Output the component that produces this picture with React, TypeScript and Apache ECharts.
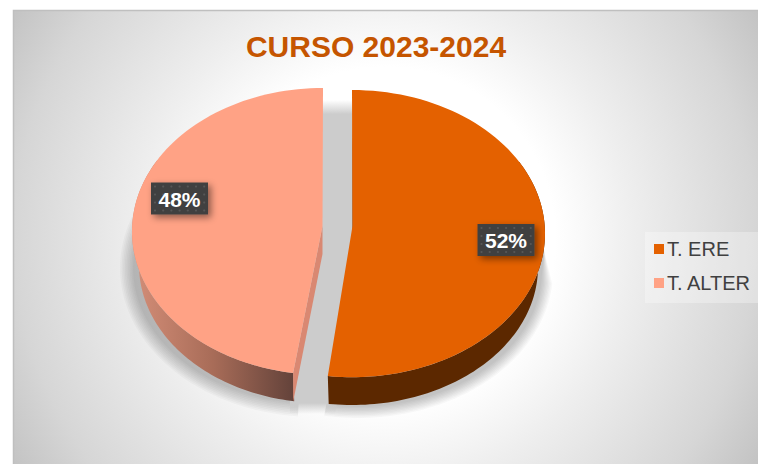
import React, { useEffect, useRef } from "react";
import * as echarts from "echarts";

const titleText = "CURSO 2023-2024";
const categories = ["T. ERE", "T. ALTER"];
const values = [52, 48];
const colors = ["#E46100", "#FFA285"];
const wallColors: any[] = [
  "#5C2800",
  {
    type: "linear", x: 0, y: 0, x2: 1, y2: 0,
    colorStops: [
      { offset: 0, color: "#D48E78" },
      { offset: 0.5, color: "#A86C58" },
      { offset: 1, color: "#63423A" },
    ],
  },
];

// Projection of each exploded slice: tilted ellipse, its lower rim and apex.
const slices = [
  { cx: 352, cy: 233.6, rx: 193, ry: 143.6, ax: 352.5, ay: 226, lcy: 267, lrx: 186, lry: 138, skew: 0, wallFrom: 60, labelX: 506, labelY: 240, labelW: 57,
    shCx: 358, shCy: 271, shFrom: 95, shTo: 190, shStart: [544, 250] },
  { cx: 323, cy: 231.4, rx: 191, ry: 143.4, ax: 322.5, ay: 226, lcy: 265, lrx: 184, lry: 138, skew: 1.8, wallFrom: 300, labelX: 179.5, labelY: 198.5, labelW: 57,
    shCx: 315, shCy: 268, shFrom: 185, shTo: 300, shStart: [300, 300] },
];
const depth = 28;
const shadowLayers = 9;

const toRad = (d: number) => (d * Math.PI) / 180;
const arc = (cx: number, cy: number, rx: number, ry: number, a: number, b: number) => {
  const pts: number[][] = [];
  const n = 90;
  for (let i = 0; i <= n; i++) {
    const t = toRad(a + ((b - a) * i) / n);
    pts.push([cx + rx * Math.sin(t), cy - ry * Math.cos(t)]);
  }
  return pts;
};

const total = values.reduce((s, v) => s + v, 0);
const range = (i: number): [number, number] => {
  let start = 0;
  for (let k = 0; k < i; k++) start += values[k];
  const a = (start / total) * 360;
  const b = ((start + values[i]) / total) * 360;
  return [a + slices[i].skew, b];
};

const renderSlice = (i: number) => () => {
  const s = slices[i];
  const [a, b] = range(i);
  const top = [[s.ax, s.ay], ...arc(s.cx, s.cy, s.rx, s.ry, a, b)];
  const children: any[] = [];

  // soft cast shadow: stacked translucent outlines
  const dMax = i === 0 ? 9 : 11;
  for (let k = 0; k < shadowLayers; k++) {
    const d = dMax - (k * (dMax + 2)) / (shadowLayers - 1);
    const pts = arc(s.shCx, s.shCy, s.lrx + d, s.lry + d, s.shFrom, s.shTo);
    children.push({
      type: "polygon",
      z2: 0,
      shape: { points: [s.shStart, ...pts, [s.ax, s.ay + 40]] },
      style: { fill: "rgba(0,0,0,0.026)" },
    });
  }

  // outer wall
  const lo = i === 0 ? arc(s.cx, s.lcy, s.lrx, s.lry, s.wallFrom, b) : arc(s.cx, s.lcy, s.lrx, s.lry, a, s.wallFrom);
  const up = i === 0 ? arc(s.cx, s.cy, s.rx, s.ry, s.wallFrom, b) : arc(s.cx, s.cy, s.rx, s.ry, a, s.wallFrom);
  children.push({
    type: "polygon",
    z2: 2,
    shape: { points: [...up, ...lo.reverse()] },
    style: { fill: wallColors[i] },
  });

  // inner wall along the cut
  const cutEnd = arc(s.cx, s.cy, s.rx, s.ry, a, a)[0];
  if (i === 1) {
    children.push({
      type: "polygon",
      z2: 2,
      shape: {
        points: [[s.ax, s.ay], cutEnd, [cutEnd[0], cutEnd[1] + depth + 1], [s.ax, s.ay + depth]],
      },
      style: { fill: "#D98872" },
    });
  } else {
    children.push({
      type: "polygon",
      z2: 2,
      shape: { points: [[s.ax, 120], [s.ax + 2, 225], [s.ax, 232]] },
      style: { fill: "#5C3A1C" },
    });
  }

  // top face
  children.push({
    type: "polygon",
    z2: 3,
    shape: { points: top },
    style: { fill: colors[i] },
  });

  // data label
  const w = s.labelW, h = 32;
  const lx = s.labelX - w / 2, ly = s.labelY - h / 2;
  children.push({
    type: "rect",
    z2: 4,
    shape: { x: lx, y: ly, width: w, height: h },
    style: { fill: "#404040", shadowBlur: 7, shadowOffsetX: 3, shadowOffsetY: 3, shadowColor: "rgba(0,0,0,0.45)" },
  });
  for (let col = 0; col < 7; col++) {
    for (let row = 0; row < 4; row++) {
      children.push({
        type: "circle",
        z2: 5,
        shape: { cx: lx + 4 + col * 8.2, cy: ly + 4 + row * 8, r: 1.1 },
        style: { fill: "#565656" },
      });
    }
  }
  children.push({
    type: "text",
    z2: 6,
    style: {
      text: `${values[i]}%`,
      x: s.labelX,
      y: s.labelY + 0.5,
      fill: "#ffffff",
      align: "center",
      verticalAlign: "middle",
      font: 'bold 21px "Liberation Sans", Arial, sans-serif',
    },
  });
  return { type: "group", children };
};

export default function App() {
  const ref = useRef<HTMLDivElement>(null);
  useEffect(() => {
    document.body.style.margin = "0";
    const chart = echarts.init(ref.current!, undefined, { renderer: "svg" });
    chart.setOption({
      animation: false,
      title: {
        text: titleText,
        left: 376,
        top: 31,
        textAlign: "center",
        padding: 0,
        textStyle: { color: "#C55500", fontSize: 30, fontWeight: "bold", fontFamily: '"Liberation Sans", Arial, sans-serif' },
      },
      legend: {
        data: categories,
        orient: "vertical",
        left: 645,
        top: 232,
        padding: [7, 20, 10, 9],
        itemWidth: 10,
        itemHeight: 10,
        itemGap: 14,
        icon: "rect",
        backgroundColor: "rgba(255,255,255,0.3)",
        textStyle: { color: "#404040", fontSize: 20, padding: [0, 0, 0, -2], fontFamily: '"Liberation Sans", Arial, sans-serif' },
      },
      graphic: [
        {
          type: "rect",
          z: -1,
          shape: { x: 13.5, y: 10.5, width: 770, height: 480 },
          style: {
            stroke: "#BFBFBF",
            lineWidth: 1.5,
            fill: {
              type: "radial",
              x: 385,
              y: 237,
              r: 436,
              global: true,
              colorStops: [
                { offset: 0, color: "#ffffff" },
                { offset: 0.39, color: "#ffffff" },
                { offset: 0.57, color: "#eeeeee" },
                { offset: 0.85, color: "#d6d6d6" },
                { offset: 1, color: "#c3c3c3" },
              ],
            },
          },
        },
      ],
      series: [
        ...categories.map((name, i) => ({
          type: "custom",
          name,
          coordinateSystem: "none",
          silent: true,
          itemStyle: { color: colors[i] },
          data: [[values[i]]],
          renderItem: renderSlice(i),
        })),
        {
          type: "custom",
          name: "gap",
          coordinateSystem: "none",
          silent: true,
          data: [[0]],
          renderItem: () => ({
            type: "polygon",
            z2: 1,
            shape: { points: [[320, 100], [356, 100], [356, 300], [335, 414], [290, 414], [290, 390]] },
            style: {
              fill: {
                type: "linear", x: 0, y: 100, x2: 0, y2: 414, global: true,
                colorStops: [
                  { offset: 0, color: "rgba(204,204,204,0)" },
                  { offset: 0.045, color: "rgba(204,204,204,1)" },
                  { offset: 0.965, color: "rgba(204,204,204,1)" },
                  { offset: 1, color: "rgba(204,204,204,0)" },
                ],
              },
            },
          }),
        },
      ],
    });
    return () => chart.dispose();
  }, []);
  return <div ref={ref} style={{ width: 758, height: 464, position: "absolute", left: 0, top: 0 }} />;
}
